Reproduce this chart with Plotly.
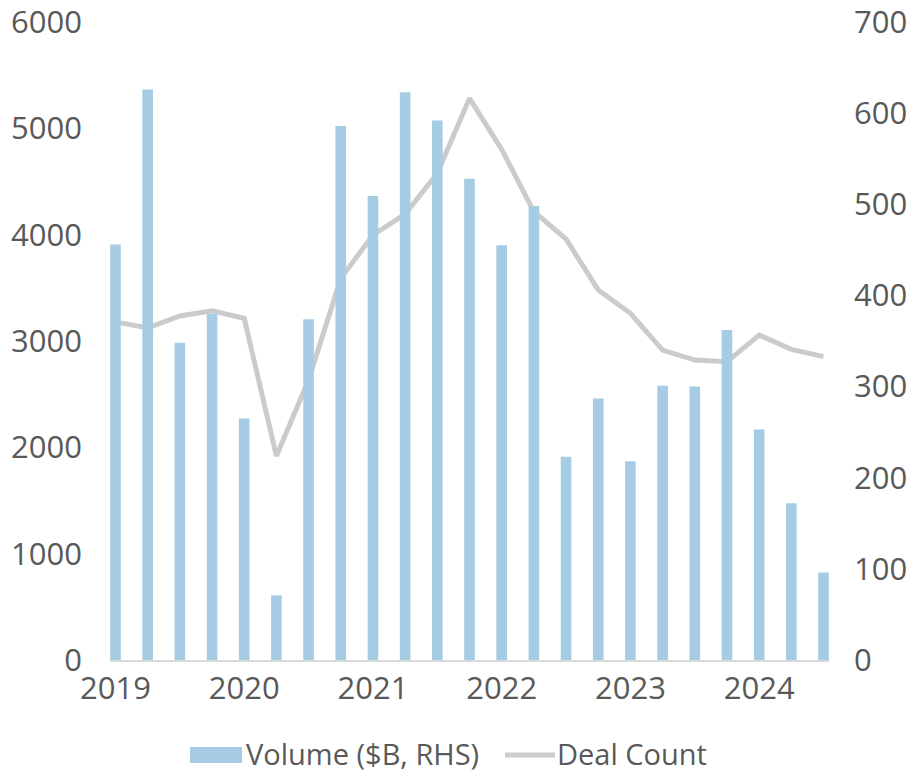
import plotly.graph_objects as go

# Quarterly periods, 2019 Q1 through 2024 Q3
quarters = ["2019Q1", "2019Q2", "2019Q3", "2019Q4",
            "2020Q1", "2020Q2", "2020Q3", "2020Q4",
            "2021Q1", "2021Q2", "2021Q3", "2021Q4",
            "2022Q1", "2022Q2", "2022Q3", "2022Q4",
            "2023Q1", "2023Q2", "2023Q3", "2023Q4",
            "2024Q1", "2024Q2", "2024Q3"]

# Volume in $B (right-hand axis)
volume = [456, 626, 348, 380, 265, 71, 374, 586, 509, 623, 592, 528,
          455, 498, 223, 287, 218, 301, 300, 362, 253, 172, 96]

# Number of deals (left-hand axis)
deal_count = [3180, 3122, 3235, 3285, 3213, 1918, 2633, 3589, 3997, 4194,
              4577, 5282, 4802, 4216, 3959, 3480, 3260, 2915, 2821, 2806,
              3056, 2921, 2853]

year_ticks = [0, 4, 8, 12, 16, 20]
year_labels = ["2019", "2020", "2021", "2022", "2023", "2024"]

x = list(range(len(quarters)))
text_color = "#595959"
bar_color = "#a6cce3"
line_color = "#cbcbcb"
font_family = "Open Sans, sans-serif"
tick_font = dict(family=font_family, size=31, color=text_color)

# plot-area geometry in pixels, used to place the hand-drawn legend
W, H = 913, 774
L, R, T, B = 110, 84, 22, 114
plot_w = W - L - R
plot_h = H - T - B


def px_x(p):
    return (p - L) / plot_w


def px_y(p):
    return (H - B - p) / plot_h


fig = go.Figure()

fig.add_trace(go.Bar(
    x=x, y=volume, name="Volume ($B, RHS)", yaxis="y2",
    marker=dict(color=bar_color, line=dict(width=0)),
    width=0.33,
    customdata=quarters,
))

fig.add_trace(go.Scatter(
    x=x, y=deal_count, name="Deal Count", yaxis="y",
    mode="lines",
    line=dict(color=line_color, width=5),
    customdata=quarters,
))

# legend: swatch + label for each series, laid out below the axis
legend_y = 753
fig.add_shape(type="rect", xref="paper", yref="paper",
              x0=px_x(190), x1=px_x(242), y0=px_y(747), y1=px_y(763),
              fillcolor=bar_color, line=dict(width=0), layer="above")
fig.add_shape(type="line", xref="paper", yref="paper",
              x0=px_x(505), x1=px_x(555), y0=px_y(755), y1=px_y(755),
              line=dict(color=line_color, width=5), layer="above")
fig.add_annotation(text="Volume ($B, RHS)", xref="paper", yref="paper",
                   x=px_x(245), y=px_y(legend_y), xanchor="left", yanchor="middle",
                   showarrow=False, borderpad=0,
                   font=dict(family=font_family, size=29, color=text_color))
fig.add_annotation(text="Deal Count", xref="paper", yref="paper",
                   x=px_x(556), y=px_y(legend_y), xanchor="left", yanchor="middle",
                   showarrow=False, borderpad=0,
                   font=dict(family=font_family, size=29, color=text_color))

fig.update_layout(
    width=W, height=H,
    margin=dict(l=L, r=R, t=T, b=B, autoexpand=False),
    paper_bgcolor="white", plot_bgcolor="white",
    font=dict(family=font_family, size=30, color=text_color),
    showlegend=False,
    xaxis=dict(range=[-0.17, 22.17], tickmode="array", tickvals=year_ticks,
               ticktext=year_labels, showgrid=False, zeroline=False,
               showline=True, linecolor="#d9d9d9", linewidth=2,
               ticks="", tickfont=tick_font),
    yaxis=dict(range=[0, 6000], dtick=1000, showgrid=False, zeroline=False,
               showline=False, ticks="", tickfont=tick_font,
               ticklabelstandoff=27, ticklabeloverflow="allow"),
    yaxis2=dict(range=[0, 700], dtick=100, overlaying="y", side="right",
                showgrid=False, zeroline=False, showline=False, ticks="",
                tickfont=tick_font, ticklabelstandoff=24,
                ticklabeloverflow="allow"),
    bargap=0.67,
)

fig.write_html("out.html")
